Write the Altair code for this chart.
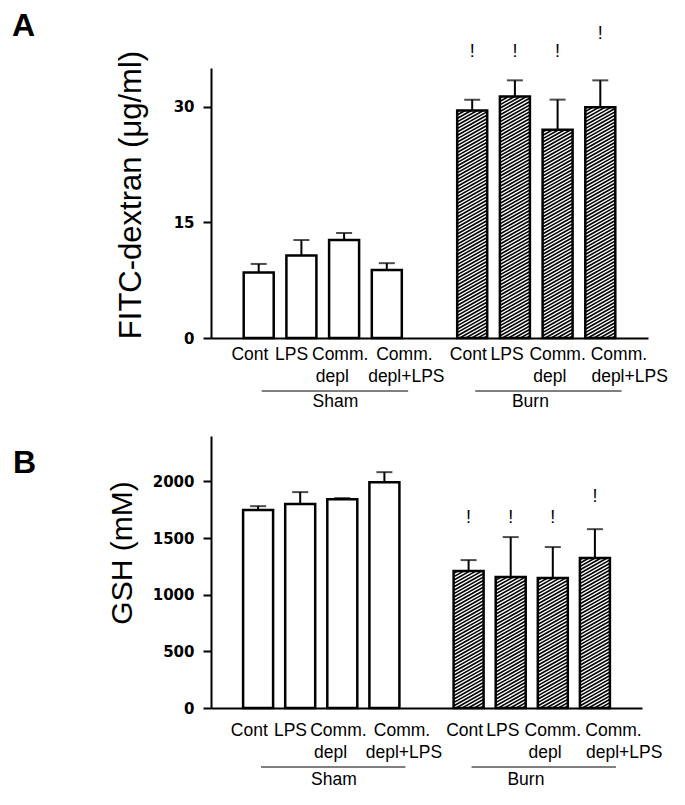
import altair as alt
import pandas as pd

# ---------------- data ----------------
groups = ["Sham", "Burn"]
conditions = ["Cont", "LPS", "Comm.\ndepl", "Comm.\ndepl+LPS"]

fitc_sham = [8.5, 10.7, 12.7, 8.8]
fitc_sham_sem = [1.1, 2.0, 0.9, 0.9]
fitc_burn = [29.5, 31.3, 27.0, 29.9]
fitc_burn_sem = [1.4, 2.1, 3.9, 3.5]
fitc_sig = [37.1, 37.1, 37.1, 39.4]      # height of "!" markers (burn bars)
fitc_ticks = [0, 15, 30]
fitc_max = 35

gsh_sham = [1746, 1799, 1843, 1993]
gsh_sham_sem = [35, 106, 9, 88]
gsh_burn = [1208, 1155, 1146, 1323]
gsh_burn_sem = [97, 353, 274, 255]
gsh_sig = [1677, 1677, 1677, 1862]
gsh_ticks = [0, 500, 1000, 1500, 2000]
gsh_max = 2400

# ---------------- layout / style ----------------
SLOTS_PER_GROUP = 5
X_DOMAIN = [-1, 9]
BAR_W = 30
HATCH_SLOPE = 0.55
HATCH_STEP = 3.4
LABEL_FONT = "Liberation Sans"
# pixel nudges of category labels (row1, row2) per group
LABEL_DX = {
    "Sham": [(-9, 0), (-10, 0), (-4, -12), (18, 20)],
    "Burn": [(-4, 0), (-8, 0), (0, -8), (19, 30)],
}
GROUP_DX = {"Sham": 13, "Burn": -6}
GROUP_LINE = (0.07, 0.5)


def slot(g, c):
    return g * SLOTS_PER_GROUP + c


def panel(letter, title, sham, sham_sem, burn, burn_sem, sig, ticks, ymax,
          W, H, title_x, title_y, title_size, letter_xy, offs):
    xpx = W / (X_DOMAIN[1] - X_DOMAIN[0])
    ypx = H / ymax
    rows = []
    for gi, (vals, sems) in enumerate([(sham, sham_sem), (burn, burn_sem)]):
        for ci, (v, s) in enumerate(zip(vals, sems)):
            rows.append({"slot": slot(gi, ci), "value": v, "top": v + s,
                         "group": groups[gi]})
    bars = pd.DataFrame(rows)

    # hatch segments for burn bars, computed from the bar values
    hrows = []
    for _, r in bars[bars.group == "Burn"].iterrows():
        x0, x1 = -BAR_W / 2, BAR_W / 2
        y0, y1 = 0.0, r.value * ypx
        c = y0 - HATCH_SLOPE * x1 + HATCH_STEP / 2
        cmax = y1 - HATCH_SLOPE * x0
        while c < cmax:
            xa = max(x0, (y0 - c) / HATCH_SLOPE)
            xb = min(x1, (y1 - c) / HATCH_SLOPE)
            if xb > xa:
                hrows.append({
                    "hx": r.slot + xa / xpx, "hx2": r.slot + xb / xpx,
                    "hy": (HATCH_SLOPE * xa + c) / ypx,
                    "hy2": (HATCH_SLOPE * xb + c) / ypx,
                })
            c += HATCH_STEP
    hatch = pd.DataFrame(hrows)

    sigdf = pd.DataFrame({"slot": [slot(1, i) for i in range(4)], "y": sig,
                          "t": ["!"] * 4})

    lab1, lab2 = [], []
    for gi, g in enumerate(groups):
        for ci, cond in enumerate(conditions):
            parts = cond.split("\n")
            d1, d2 = LABEL_DX[g][ci]
            lab1.append({"x": slot(gi, ci) + d1 / xpx, "t": parts[0]})
            if len(parts) > 1:
                lab2.append({"x": slot(gi, ci) + d2 / xpx, "t": parts[1]})
    lab1 = pd.DataFrame(lab1)
    lab2 = pd.DataFrame(lab2)

    glines = pd.DataFrame([
        {"x": slot(gi, 0) + GROUP_LINE[0], "x2": slot(gi, 3) + GROUP_LINE[1],
         "xc": (slot(gi, 0) + slot(gi, 3)) / 2 + GROUP_DX[g] / xpx, "t": g}
        for gi, g in enumerate(groups)
    ])

    xscale = alt.Scale(domain=X_DOMAIN, nice=False, zero=False)
    yscale = alt.Scale(domain=[0, ymax], nice=False)
    xaxis = alt.Axis(title=None, labels=False, ticks=False, grid=False,
                     domainColor="black", domainWidth=2)
    yaxis = alt.Axis(title=None, values=ticks, format="d", grid=False,
                     labelFont="DejaVu Sans", labelFontWeight="bold",
                     labelFontSize=15, labelColor="black", labelPadding=9,
                     labelFlush=False,
                     tickSize=8, tickWidth=2, tickColor="black",
                     domainColor="black", domainWidth=2)

    X = alt.X("slot:Q", scale=xscale, axis=xaxis)
    Y = alt.Y("value:Q", scale=yscale, axis=yaxis)

    base_bars = alt.Chart(bars).mark_bar(width=BAR_W, fill="white",
                                         strokeOpacity=0).encode(x=X, y=Y)
    hatch_l = alt.Chart(hatch).mark_rule(color="black", strokeWidth=1.6).encode(
        x=alt.X("hx:Q", scale=xscale, axis=xaxis), x2="hx2:Q",
        y=alt.Y("hy:Q", scale=yscale, axis=yaxis), y2="hy2:Q")
    outline = alt.Chart(bars).mark_bar(width=BAR_W, fillOpacity=0,
                                       stroke="black", strokeWidth=2.5).encode(x=X, y=Y)
    err = alt.Chart(bars).mark_rule(color="black", strokeWidth=2).encode(
        x=X, y=alt.Y("top:Q", scale=yscale, axis=yaxis), y2="value:Q")
    cap = alt.Chart(bars).mark_tick(orient="horizontal", size=16, thickness=2,
                                    color="black").encode(
        x=X, y=alt.Y("top:Q", scale=yscale, axis=yaxis))
    sig_l = alt.Chart(sigdf).mark_text(font=LABEL_FONT, fontSize=18,
                                       baseline="middle", fill="black").encode(
        x=X, y=alt.Y("y:Q", scale=yscale, axis=yaxis), text="t:N")
    row1 = alt.Chart(lab1).mark_text(font=LABEL_FONT, fontSize=17.5,
                                     baseline="middle", fill="black").encode(
        x=alt.X("x:Q", scale=xscale, axis=xaxis), y=alt.value(H + offs[0]),
        text="t:N")
    row2 = alt.Chart(lab2).mark_text(font=LABEL_FONT, fontSize=17.5,
                                     baseline="middle", fill="black").encode(
        x=alt.X("x:Q", scale=xscale, axis=xaxis), y=alt.value(H + offs[1]),
        text="t:N")
    gline = alt.Chart(glines).mark_rule(color="black", strokeWidth=1).encode(
        x=alt.X("x:Q", scale=xscale, axis=xaxis), x2="x2:Q",
        y=alt.value(H + offs[2]))
    gtext = alt.Chart(glines).mark_text(font=LABEL_FONT, fontSize=17.5,
                                        baseline="middle", fill="black").encode(
        x=alt.X("xc:Q", scale=xscale, axis=xaxis), y=alt.value(H + offs[3]),
        text="t:N")
    let = alt.Chart(pd.DataFrame({"t": [letter]})).mark_text(
        font=LABEL_FONT, fontSize=32, fontWeight="bold", align="left",
        baseline="alphabetic", fill="black").encode(
        x=alt.value(letter_xy[0]), y=alt.value(letter_xy[1]), text="t:N")
    ytitle = alt.Chart(pd.DataFrame({"t": [title]})).mark_text(
        font=LABEL_FONT, fontSize=title_size, angle=270, align="center",
        baseline="alphabetic", fill="black").encode(
        x=alt.value(title_x), y=alt.value(title_y), text="t:N")

    return alt.layer(base_bars, hatch_l, outline, err, cap, sig_l, row1, row2,
                     gline, gtext, let, ytitle).properties(width=W, height=H)


pa = panel("A", "FITC-dextran (μg/ml)", fitc_sham, fitc_sham_sem, fitc_burn,
           fitc_burn_sem, fitc_sig, fitc_ticks, fitc_max,
           437, 270, -70, 127, 31, (-199, -32), (17, 39, 53, 64))
pb = panel("B", "GSH (mM)", gsh_sham, gsh_sham_sem, gsh_burn, gsh_burn_sem,
           gsh_sig, gsh_ticks, gsh_max,
           431, 272, -79, 117, 30, (-198, 37), (23, 45, 59, 72))

chart = alt.vconcat(pa, pb, spacing=25).properties(
    padding={"left": 4, "top": 2, "right": 5, "bottom": 5},
    background="white",
).configure_view(stroke=None)

chart.save("out.html", embed_options={"renderer": "svg", "actions": False})
